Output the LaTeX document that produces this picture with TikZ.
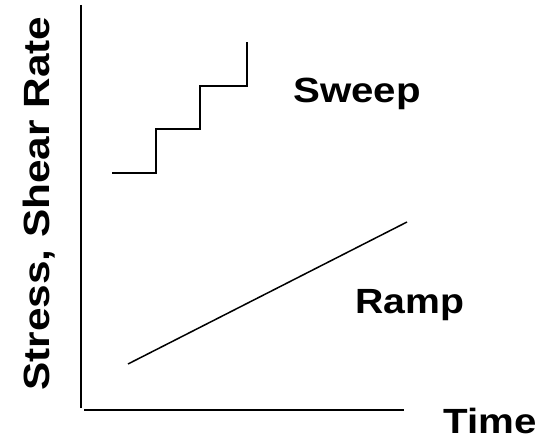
\documentclass[tikz,border=0pt]{standalone}
\usepackage{fontspec}
\setmainfont{Liberation Sans}
\begin{document}
\begin{tikzpicture}[x=1pt,y=-1pt,
  axis/.style={line width=2pt},
  curve/.style={line width=1.8pt},
  ramp/.style={line width=1.5pt},
  lbl/.style={inner sep=0pt,font=\fontsize{35}{35}\selectfont\bfseries},
  vlbl/.style={inner sep=0pt,font=\fontsize{36.5}{36.5}\selectfont\bfseries}]
\useasboundingbox (0,0) rectangle (542,444);
% axes
\coordinate (ytop) at (81,5);
\coordinate (ybot) at (81,408);
\coordinate (xl) at (84,410);
\coordinate (xr) at (404,410);
\draw[axis] (ytop) -- (ybot);
\draw[axis] (xl) -- (xr);
% stepped sweep
\coordinate (s0) at (112,173);
\coordinate (s1) at (156,173);
\coordinate (s2) at (156,129);
\coordinate (s3) at (200,129);
\coordinate (s4) at (200,86);
\coordinate (s5) at (247,86);
\coordinate (s6) at (247,42);
\draw[curve,line join=miter] (s0) -- (s1) -- (s2) -- (s3) -- (s4) -- (s5) -- (s6);
% linear ramp
\coordinate (r0) at (128,364);
\coordinate (r1) at (407,222);
\draw[ramp] (r0) -- (r1);
% labels
\node[lbl,anchor=base west] (sweep) at (293,103) {\scalebox{1.15}[1]{Sweep}};
\node[lbl,anchor=base west] (rampl) at (355,313) {\scalebox{1.12}[1]{Ramp}};
\node[lbl,anchor=base west] (time) at (443,433) {\scalebox{1.15}[1]{Time}};
\node[vlbl,anchor=base,rotate=90] (ylab) at (49,203.5) {\scalebox{1.16}[1]{Stress, Shear Rate}};
\end{tikzpicture}
\end{document}
